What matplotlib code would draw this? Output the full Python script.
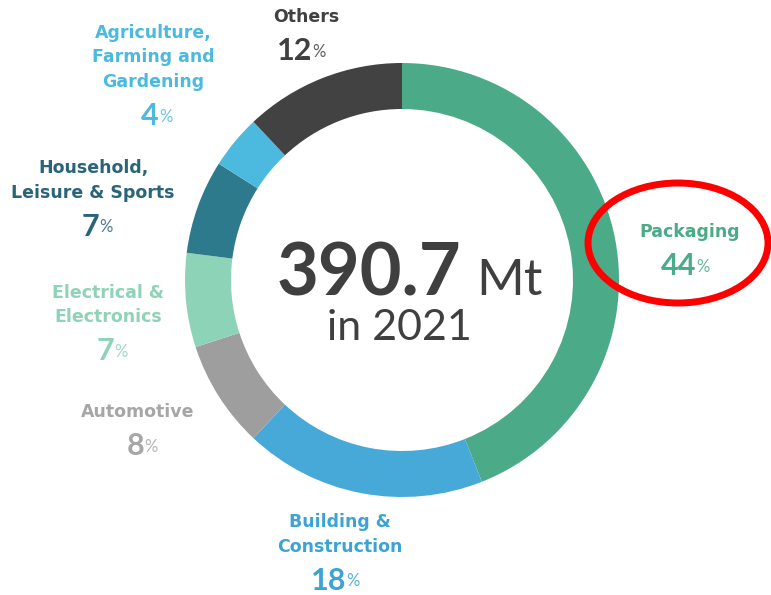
import matplotlib
matplotlib.use('Agg')
import matplotlib.pyplot as plt
from matplotlib.patches import Ellipse

# data
sectors = ['Packaging', 'Building &\nConstruction', 'Automotive', 'Electrical &\nElectronics',
           'Household,\nLeisure & Sports', 'Agriculture,\nFarming and\nGardening', 'Others']
shares = [44, 18, 8, 7, 7, 4, 12]
ring_colors = ['#4baa88', '#47a9d8', '#9e9e9e', '#8dd3b7', '#2d7a8c', '#4cbade', '#424242']
text_colors = ['#4baa88', '#3ca3d4', '#a6a6a6', '#8ed3b7', '#2a6478', '#4cbade', '#404040']
total_mt = '390.7'
year = '2021'

# label anchors in pixel space (x, y of first line)
label_pos = [(690, 232), (340, 522), (138, 412), (108, 293), (93, 168), (153, 33), (306, 17)]

W, H = 771, 595
plt.rcParams['font.family'] = ['Lato', 'DejaVu Sans']


def py(y):
    return H - y


fig = plt.figure(figsize=(W / 100, H / 100), dpi=100)
ax = fig.add_axes([0, 0, 1, 1])

ax.pie(shares, radius=217, center=(402, py(280)), startangle=90, counterclock=False,
       colors=ring_colors, wedgeprops=dict(width=46, linewidth=0))
ax.set_xlim(0, W)
ax.set_ylim(0, H)
ax.axis('off')

line_gap = 24.5
for name, share, col, (x, y) in zip(sectors, shares, text_colors, label_pos):
    lines = name.split('\n')
    for i, ln in enumerate(lines):
        ax.text(x, py(y + i * line_gap), ln, ha='center', va='center',
                fontsize=12.5, fontweight='bold', color=col, family='DejaVu Sans')
    yp = y + (len(lines) - 1) * line_gap + 34
    num = ax.text(x + 6, py(yp), str(share), ha='right', va='center',
                  fontsize=22, fontweight='bold', color=col)
    ax.annotate('%', xy=(1, 0.18), xycoords=num, ha='left', va='bottom',
                fontsize=12, color=col, alpha=0.85)

# centre text
ax.text(461, py(295), total_mt, ha='right', va='baseline', fontsize=52,
        fontweight='bold', color='#3f3f3f')
ax.text(476, py(295), 'Mt', ha='left', va='baseline',
        fontsize=37, fontweight='normal', color='#3f3f3f')
ax.text(399, py(340), 'in ' + year, ha='center', va='baseline', fontsize=31,
        fontweight='normal', color='#3f3f3f')

# red highlight around Packaging
ax.add_patch(Ellipse((678, py(243)), 180, 120, fill=False, edgecolor='#ff0000', linewidth=5))

fig.savefig('out.png', dpi=100)
